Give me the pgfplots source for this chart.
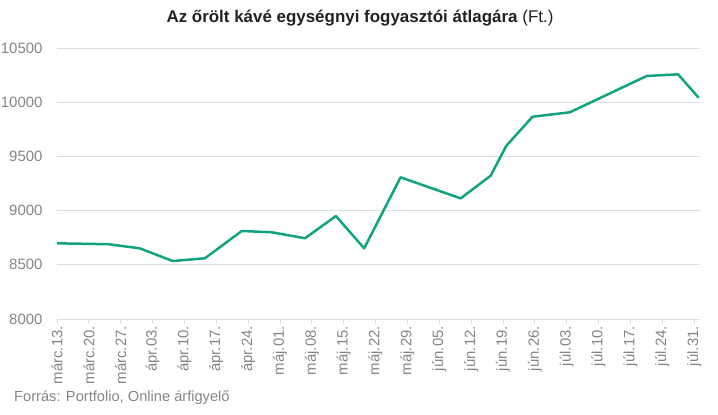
\documentclass[border=0pt]{standalone}
\usepackage{pgfplots}
\pgfplotsset{compat=1.18}
\usepackage{fontspec}
\setmainfont{Liberation Sans}

\definecolor{linegreen}{HTML}{0FA37F}
\definecolor{gridc}{HTML}{D8E0E2}
\definecolor{labelc}{HTML}{858585}
\definecolor{titlec}{HTML}{222222}

% days counted from márc.13.
\pgfplotstableread{
day price
0     8698
11.3  8690
18.2  8652
25.4  8535
32.5  8560
40.6  8812
47.2  8800
54.5  8745
61.3  8950
67.5  8652
75.5  9307
88.7  9113
95.3  9322
98.7  9596
104.5 9866
112.7 9907
129.6 10242
136.5 10257
141   10041
}\coffee

\begin{document}
\begin{tikzpicture}
\path[use as bounding box] (-57bp,-96bp) rectangle (661bp,319bp);
\begin{axis}[
  scale only axis,
  width=643bp, height=271bp,
  xmin=0, xmax=141.3,
  ymin=8000, ymax=10500,
  axis x line*=bottom,
  axis y line*=left,
  x axis line style={draw=gridc, line width=0.8pt, -},
  y axis line style={draw=none},
  xtick={0,7,...,140},
  xticklabels={márc.13.,márc.20.,márc.27.,ápr.03.,ápr.10.,ápr.17.,ápr.24.,máj.01.,máj.08.,máj.15.,máj.22.,máj.29.,jún.05.,jún.12.,jún.19.,jún.26.,júl.03.,júl.10.,júl.17.,júl.24.,júl.31.},
  x tick style={draw=gridc, line width=0.8pt},
  y tick style={draw=none},
  tick align=outside,
  major tick length=5bp,
  xticklabel style={rotate=90, anchor=east, font=\fontsize{15}{16}\selectfont, text=labelc, inner sep=2bp},
  ytick={8000,8500,...,10500},
  scaled y ticks=false,
  ymajorgrids,
  grid style={draw=gridc, line width=0.8pt},
  yticklabel style={font=\fontsize{15}{16}\selectfont, text=labelc, anchor=east, xshift=-6bp},
  /pgf/number format/assume math mode=true,
  /pgf/number format/1000 sep={},
  clip=false,
]
\addplot[color=linegreen, line width=2.5pt, line join=round, no markers] table[x=day, y=price] {\coffee};
\end{axis}
\node[text=titlec, font=\fontsize{17}{20}\selectfont] at (303bp,301bp) {\textbf{Az őrölt kávé egységnyi fogyasztói átlagára} (Ft.)};
\node[anchor=west, text=labelc, font=\fontsize{14.7}{17}\selectfont, inner sep=0pt] at (-43bp,-79bp) {Forrás: Portfolio, Online árfigyelő};
\end{tikzpicture}
\end{document}
